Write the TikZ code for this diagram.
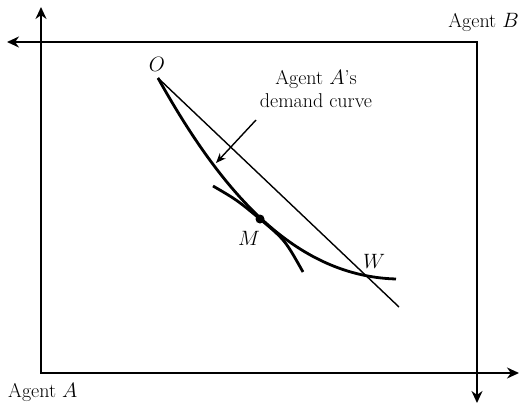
\documentclass[tikz,border=0pt]{standalone}
\usepackage{tikz}
\usetikzlibrary{arrows.meta,positioning,calc}

\begin{document}
\begin{tikzpicture}[
  x=1pt, y=-1pt,
  frame/.style={line width=1.7pt},
  axis/.style={line width=1.7pt, -{Stealth[length=12pt,width=11pt]}},
  curve/.style={line width=2.8pt},
  budget/.style={line width=1.4pt},
  label/.style={font=\fontsize{20}{23}\selectfont, inner sep=0pt},
  arrow/.style={line width=1.4pt, -{Stealth[length=10pt,width=8pt]}}
]
\useasboundingbox (0,0) rectangle (522,404);

% Box corners and axis ends
\coordinate (oA) at (41,373);
\coordinate (oB) at (477,42);
\coordinate (Ay) at (41,7);
\coordinate (Ax) at (519,373);
\coordinate (Bx) at (7,42);
\coordinate (By) at (477,403);

% Edgeworth box
\draw[frame] (oA) rectangle (oB);
\draw[axis] (oA) -- (Ay);
\draw[axis] (oA) -- (Ax);
\draw[axis] (oB) -- (Bx);
\draw[axis] (oB) -- (By);

% Agent labels
\node[label, anchor=base west] (agA) at (8,397) {Agent $A$};
\node[label, anchor=base east] (agB) at (519,28) {Agent $B$};

% Points
\coordinate (O) at (158,78);
\coordinate (M) at (260,219);
\coordinate (W) at (365,273);
\coordinate (end) at (399,307);
\coordinate (dend) at (396,279);

% Budget line
\draw[budget] (O) -- (end);

% Demand curve
\draw[curve] (O) .. controls (215,180) and (288,276) .. (dend);

% Indifference curve at M
\draw[curve] (213,186) .. controls (237,200) .. (M) .. controls (285,240) .. (303,272);
\fill (M) circle (4.5);

% Point labels
\node[label] (lO) at (157,64) {$O$};
\node[label] (lM) at (249,238) {$M$};
\node[label] (lW) at (374,261) {$W$};

% Demand curve label
\node[label, align=center] (dem) at (316,89) {Agent $A$'s\\demand curve};
\coordinate (tail) at (256,120);
\coordinate (tip) at (216,163);
\draw[arrow] (tail) -- (tip);

\end{tikzpicture}
\end{document}
